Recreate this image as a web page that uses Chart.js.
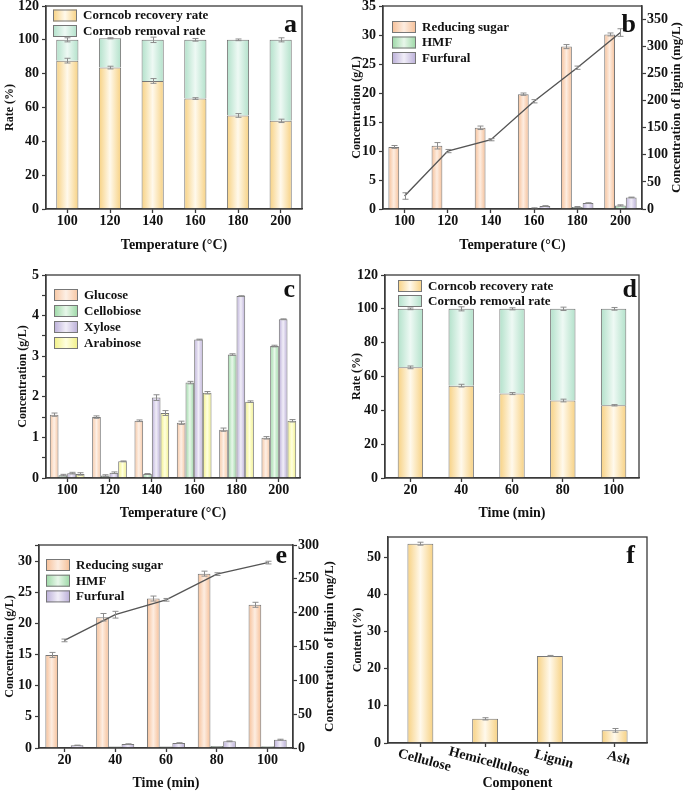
<!DOCTYPE html>
<html>
<head>
<meta charset="utf-8">
<script src="https://cdn.jsdelivr.net/npm/chart.js@4.4.1/dist/chart.umd.min.js"></script>
<style>
  body { margin: 0; background: #fff; }
  #fig { position: relative; width: 685px; height: 792px; overflow: hidden; }
  #fig canvas { position: absolute; }
</style>
</head>
<body>
<div id="fig">
  <canvas id="panelA" width="342" height="262" style="left:0;top:0"></canvas>
  <canvas id="panelB" width="343" height="262" style="left:342px;top:0"></canvas>
  <canvas id="panelC" width="342" height="265" style="left:0;top:258px"></canvas>
  <canvas id="panelD" width="343" height="265" style="left:342px;top:258px"></canvas>
  <canvas id="panelE" width="342" height="272" style="left:0;top:520px"></canvas>
  <canvas id="panelF" width="343" height="272" style="left:342px;top:520px"></canvas>
</div>
<script>
// ---- data ----
const tempLabels = ['100', '120', '140', '160', '180', '200'];
const timeLabels = ['20', '40', '60', '80', '100'];
const componentLabels = ['Cellulose', 'Hemicellulose', 'Lignin', 'Ash'];

// (a) recovery / removal vs temperature
const recoveryByTemp = [87.7, 83.6, 75.7, 65.3, 55.3, 52.1];
const recoveryByTempErr = [1.4, 0.8, 1.4, 0.5, 1.1, 1.0];
const removalByTemp = [12.3, 17.3, 24.3, 34.7, 44.7, 47.9];
const removalByTempErr = [1.2, 0.3, 1.6, 0.8, 0.5, 1.2];

// (b) hydrolysate vs temperature
const sugarByTemp = [10.7, 10.9, 14.0, 19.8, 28.0, 30.1];
const sugarByTempErr = [0.25, 0.55, 0.3, 0.2, 0.35, 0.25];
const hmfByTemp = [0, 0, 0.05, 0.15, 0.33, 0.62];
const hmfByTempErr = [0, 0, 0, 0.05, 0.1, 0.1];
const furfuralByTemp = [0, 0, 0.05, 0.52, 1.03, 2.0];
const furfuralByTempErr = [0, 0, 0, 0.05, 0.05, 0.05];
const ligninByTemp = [24, 107, 128, 199, 261, 326];
const ligninByTempErr = [6, 3, 2, 3, 3, 7];

// (c) sugars vs temperature
const glucose = [1.56, 1.50, 1.41, 1.36, 1.19, 0.99];
const glucoseErr = [0.04, 0.03, 0.02, 0.04, 0.04, 0.03];
const cellobiose = [0.07, 0.06, 0.10, 2.35, 3.04, 3.25];
const cellobioseErr = [0.02, 0.02, 0.01, 0.03, 0.02, 0.02];
const xylose = [0.12, 0.13, 1.98, 3.41, 4.48, 3.91];
const xyloseErr = [0.02, 0.02, 0.07, 0.01, 0.01, 0.01];
const arabinose = [0.10, 0.41, 1.60, 2.10, 1.88, 1.41];
const arabinoseErr = [0.03, 0.01, 0.06, 0.03, 0.02, 0.03];

// (d) recovery / removal vs time
const recoveryByTime = [65.4, 54.6, 49.9, 45.8, 43.0];
const recoveryByTimeErr = [0.8, 0.8, 0.6, 0.8, 0.4];
const removalByTime = [34.6, 45.4, 50.1, 54.2, 57.0];
const removalByTimeErr = [0.5, 1.2, 0.6, 1.0, 0.8];

// (e) hydrolysate vs time
const sugarByTime = [14.95, 21.0, 24.0, 28.0, 23.0];
const sugarByTimeErr = [0.4, 0.6, 0.4, 0.4, 0.4];
const hmfByTime = [0.05, 0.25, 0.25, 0.33, 0.3];
const furfuralByTime = [0.43, 0.63, 0.8, 1.07, 1.33];
const furfuralByTimeErr = [0.03, 0.04, 0.05, 0.06, 0.08];
const ligninByTime = [159, 197, 219, 257, 274];
const ligninByTimeErr = [2, 5, 2, 2, 2];

// (f) raw corncob composition
const contentValues = [53.6, 6.5, 23.4, 3.4];
const contentErr = [0.4, 0.3, 0.15, 0.5];

// ---- look ----
const SERIF = '"Liberation Serif", "DejaVu Serif", serif';
const INK = '#111';
const AXIS = '#3a3a3a';
const SHADES = {
    recovery: ['#f7d182', '#fff9ec'],
    removal: ['#b2e1ca', '#eef9f4'],
    sugar: ['#f6bf97', '#fdede1'],
    glucose: ['#f7c6a2', '#fdf0e6'],
    hmf: ['#9bd8a5', '#e8f7ea'],
    furfural: ['#baaed8', '#f1eef8'],
    arabinose: ['#f1f085', '#ffffe0']
};

Chart.defaults.font.family = SERIF;
Chart.defaults.font.weight = 'bold';
Chart.defaults.font.size = 14;
Chart.defaults.color = INK;
Chart.defaults.animation = false;
Chart.defaults.plugins.legend.display = false;
Chart.defaults.plugins.tooltip.enabled = false;

function isMajor(v, major) {
    return Math.abs(v / major - Math.round(v / major)) < 1e-6;
}

function edgeGradient(ctx, x0, x1, shade) {
    const g = ctx.createLinearGradient(x0, 0, x1, 0);
    g.addColorStop(0, shade[0]);
    g.addColorStop(0.5, shade[1]);
    g.addColorStop(1, shade[0]);
    return g;
}

// horizontal light-centre gradient on every bar
const barShade = {
    id: 'barShade',
    beforeDatasetsDraw(chart) {
        chart.data.datasets.forEach((ds, i) => {
            if (!ds.shade) return;
            chart.getDatasetMeta(i).data.forEach(el => {
                el.options.backgroundColor = edgeGradient(chart.ctx, el.x - el.width / 2, el.x + el.width / 2, ds.shade);
            });
        });
    }
};

// small gray error bars with caps
const errorBars = {
    id: 'errorBars',
    afterDatasetsDraw(chart) {
        const c = chart.ctx;
        chart.data.datasets.forEach((ds, i) => {
            if (!ds.err) return;
            const meta = chart.getDatasetMeta(i);
            const ys = chart.scales[meta.yAxisID];
            c.save();
            c.strokeStyle = '#8c8c8c';
            c.lineWidth = 1;
            meta.data.forEach((el, j) => {
                const e = ds.err[j];
                if (!e) return;
                const h = Math.abs(ys.getPixelForValue(0) - ys.getPixelForValue(e));
                const x = Math.round(el.x) + 0.5;
                c.beginPath();
                c.moveTo(x, el.y - h); c.lineTo(x, el.y + h);
                c.moveTo(x - 3, el.y - h); c.lineTo(x + 3, el.y - h);
                c.moveTo(x - 3, el.y + h); c.lineTo(x + 3, el.y + h);
                c.stroke();
            });
            c.restore();
        });
    }
};

// closed box round the plot + panel letter
const frame = {
    id: 'frame',
    afterDraw(chart, args, opts) {
        const c = chart.ctx;
        const a = chart.chartArea;
        c.save();
        c.strokeStyle = AXIS;
        c.lineWidth = 1.3;
        c.strokeRect(a.left, a.top, a.right - a.left, a.bottom - a.top);
        c.fillStyle = INK;
        c.font = 'bold 26px ' + SERIF;
        c.textAlign = 'right';
        c.textBaseline = 'alphabetic';
        c.fillText(opts.letter, a.right - opts.dx, a.top + opts.dy);
        c.restore();
    }
};

// legend drawn inside the plot, top-left, one row per bar series
const boxLegend = {
    id: 'boxLegend',
    afterDraw(chart, args, opts) {
        if (!opts.step) return;
        const c = chart.ctx;
        const a = chart.chartArea;
        const x = a.left + opts.left;
        let y = a.top + opts.top;
        c.save();
        c.font = 'bold 13px ' + SERIF;
        c.textBaseline = 'middle';
        chart.data.datasets.filter(d => d.shade).forEach(ds => {
            c.fillStyle = edgeGradient(c, x, x + 24, ds.shade);
            c.fillRect(x, y, 24, 12);
            c.strokeStyle = '#777';
            c.lineWidth = 1;
            c.strokeRect(x + 0.5, y + 0.5, 23, 11);
            c.fillStyle = INK;
            c.fillText(ds.label, x + 30, y + 6.5);
            y += opts.step;
        });
        c.restore();
    }
};

// right-hand axis title, reading bottom to top like the left one
const sideTitle = {
    id: 'sideTitle',
    afterDraw(chart, args, opts) {
        if (!opts.text) return;
        const c = chart.ctx;
        const a = chart.chartArea;
        c.save();
        c.translate(opts.x, (a.top + a.bottom) / 2);
        c.rotate(-Math.PI / 2);
        c.font = 'bold 13px ' + SERIF;
        c.fillStyle = INK;
        c.textAlign = 'center';
        c.textBaseline = 'middle';
        c.fillText(opts.text, 0, 0);
        c.restore();
    }
};

// category labels tilted clockwise (panel f)
const slantLabels = {
    id: 'slantLabels',
    afterDraw(chart, args, opts) {
        if (!opts.on) return;
        const c = chart.ctx;
        const xs = chart.scales.x;
        c.save();
        c.font = 'bold 14px ' + SERIF;
        c.fillStyle = INK;
        c.textAlign = 'center';
        c.textBaseline = 'middle';
        chart.data.labels.forEach((lab, i) => {
            c.save();
            c.translate(xs.getPixelForValue(i) + 4, chart.chartArea.bottom + opts.dy + lab.length * 0.4);
            c.rotate(opts.angle * Math.PI / 180);
            c.fillText(lab, 0, 0);
            c.restore();
        });
        c.restore();
    }
};

function xScale(title, height, titlePad, stacked, showTicks) {
    return {
        type: 'category',
        offset: true,
        stacked: stacked,
        border: { color: AXIS, width: 1.3 },
        grid: { offset: false, drawOnChartArea: false, tickLength: 4, tickColor: AXIS, tickWidth: 1.3 },
        ticks: { display: showTicks, padding: 0, color: INK, font: { size: 14 }, maxRotation: 0, autoSkip: false },
        title: { display: true, text: title, color: INK, font: { size: 14 }, padding: { top: 0, bottom: titlePad } },
        afterFit: s => { s.height = height; s.paddingLeft = 0; s.paddingRight = 0; }
    };
}

function yScale(o) {
    const left = o.position !== 'right';
    return {
        type: 'linear',
        position: o.position || 'left',
        stacked: o.stacked,
        bounds: 'data',
        min: 0,
        max: o.max,
        border: { color: AXIS, width: 1.3 },
        grid: { drawOnChartArea: false, tickLength: 4, tickColor: AXIS, tickWidth: 1.2 },
        ticks: {
            stepSize: o.step,
            includeBounds: false,
            padding: left ? 3 : 1,
            color: INK,
            font: { size: 14 },
            callback: v => isMajor(v, o.major) ? v : ''
        },
        title: left
            ? { display: true, text: o.title, color: INK, font: { size: 12 }, padding: { top: o.titlePad, bottom: 0 } }
            : { display: false },
        afterFit: s => { s.width = o.width; s.paddingTop = 0; s.paddingBottom = 0; }
    };
}

function bars(label, values, shade, err, extra) {
    return Object.assign({
        type: 'bar',
        label: label,
        data: values,
        shade: shade,
        err: err,
        backgroundColor: () => shade[0],
        borderColor: '#777',
        borderWidth: 1
    }, extra || {});
}

function ligninLine(values, err) {
    return {
        type: 'line',
        label: 'Lignin',
        data: values,
        err: err,
        yAxisID: 'y2',
        order: -1,
        borderColor: '#555',
        borderWidth: 1.4,
        pointRadius: 0,
        fill: false,
        tension: 0
    };
}

function makePanel(id, labels, datasets, scales, pad, plug) {
    return new Chart(document.getElementById(id), {
        data: { labels: labels, datasets: datasets },
        options: {
            responsive: false,
            layout: { padding: { top: pad.top, right: pad.right || 0, left: 0, bottom: 0 } },
            scales: scales,
            plugins: {
                frame: plug.frame,
                boxLegend: plug.legend || {},
                sideTitle: plug.side || {},
                slantLabels: plug.slant || {}
            }
        },
        plugins: [barShade, errorBars, frame, boxLegend, sideTitle, slantLabels]
    });
}

// (a)
makePanel('panelA', tempLabels, [
    bars('Corncob recovery rate', recoveryByTemp, SHADES.recovery, recoveryByTempErr, { barPercentage: 0.52, categoryPercentage: 1 }),
    bars('Corncob removal rate', removalByTemp, SHADES.removal, removalByTempErr, { barPercentage: 0.52, categoryPercentage: 1 })
], {
    x: xScale('Temperature (°C)', 53, 8.6, true, true),
    y: yScale({ max: 120, step: 10, major: 20, width: 46, title: 'Rate (%)', titlePad: 2.8, stacked: true })
}, { top: 6, right: 40 }, {
    frame: { letter: 'a', dx: 5, dy: 26 },
    legend: { left: 7, top: 3.5, step: 15.5 }
});

// (b)
makePanel('panelB', tempLabels, [
    ligninLine(ligninByTemp, ligninByTempErr),
    bars('Reducing sugar', sugarByTemp, SHADES.sugar, sugarByTempErr, { barPercentage: 1, categoryPercentage: 0.75 }),
    bars('HMF', hmfByTemp, SHADES.hmf, hmfByTempErr, { barPercentage: 1, categoryPercentage: 0.75 }),
    bars('Furfural', furfuralByTemp, SHADES.furfural, furfuralByTempErr, { barPercentage: 1, categoryPercentage: 0.75 })
], {
    x: xScale('Temperature (°C)', 53, 8.6, false, true),
    y: yScale({ max: 35, step: 2.5, major: 5, width: 41, title: 'Concentration (g/L)', titlePad: 7.8 }),
    y2: yScale({ position: 'right', max: 375, step: 25, major: 50, width: 43 })
}, { top: 6 }, {
    frame: { letter: 'b', dx: 6, dy: 26 },
    legend: { left: 9, top: 15, step: 15.5 },
    side: { text: 'Concentration of lignin (mg/L)', x: 335 }
});

// (c)
makePanel('panelC', tempLabels, [
    bars('Glucose', glucose, SHADES.glucose, glucoseErr, { barPercentage: 1, categoryPercentage: 0.82 }),
    bars('Cellobiose', cellobiose, SHADES.hmf, cellobioseErr, { barPercentage: 1, categoryPercentage: 0.82 }),
    bars('Xylose', xylose, SHADES.furfural, xyloseErr, { barPercentage: 1, categoryPercentage: 0.82 }),
    bars('Arabinose', arabinose, SHADES.arabinose, arabinoseErr, { barPercentage: 1, categoryPercentage: 0.82 })
], {
    x: xScale('Temperature (°C)', 45, 1.6, false, true),
    y: yScale({ max: 5, step: 0.5, major: 1, width: 46, title: 'Concentration (g/L)', titlePad: 15.8 })
}, { top: 17, right: 42 }, {
    frame: { letter: 'c', dx: 5, dy: 22 },
    legend: { left: 8, top: 14, step: 16 }
});

// (d)
makePanel('panelD', timeLabels, [
    bars('Corncob recovery rate', recoveryByTime, SHADES.recovery, recoveryByTimeErr, { barPercentage: 0.5, categoryPercentage: 1 }),
    bars('Corncob removal rate', removalByTime, SHADES.removal, removalByTimeErr, { barPercentage: 0.5, categoryPercentage: 1 })
], {
    x: xScale('Time (min)', 45, 1.6, true, true),
    y: yScale({ max: 120, step: 10, major: 20, width: 43, title: 'Rate (%)', titlePad: 7.8, stacked: true })
}, { top: 17, right: 46 }, {
    frame: { letter: 'd', dx: 2, dy: 22 },
    legend: { left: 13, top: 5, step: 15 }
});

// (e)
makePanel('panelE', timeLabels, [
    ligninLine(ligninByTime, ligninByTimeErr),
    bars('Reducing sugar', sugarByTime, SHADES.sugar, sugarByTimeErr, { barPercentage: 1, categoryPercentage: 0.75 }),
    bars('HMF', hmfByTime, SHADES.hmf, null, { barPercentage: 1, categoryPercentage: 0.75 }),
    bars('Furfural', furfuralByTime, SHADES.furfural, furfuralByTimeErr, { barPercentage: 1, categoryPercentage: 0.75 })
], {
    x: xScale('Time (min)', 44, 0.6, false, true),
    y: yScale({ max: 32.6, step: 2.5, major: 5, width: 39, title: 'Concentration (g/L)', titlePad: 2.8 }),
    y2: yScale({ position: 'right', max: 300, step: 25, major: 50, width: 49 })
}, { top: 25 }, {
    frame: { letter: 'e', dx: 6, dy: 18 },
    legend: { left: 7, top: 14, step: 15.7 },
    side: { text: 'Concentration of lignin (mg/L)', x: 330 }
});

// (f)
makePanel('panelF', componentLabels, [
    bars('Content', contentValues, SHADES.recovery, contentErr, { barPercentage: 0.4, categoryPercentage: 1 })
], {
    x: xScale('Component', 49, 0.6, false, false),
    y: yScale({ max: 55.4, step: 5, major: 10, width: 46, title: 'Content (%)', titlePad: 8.8 })
}, { top: 17, right: 38 }, {
    frame: { letter: 'f', dx: 12, dy: 26 },
    slant: { on: true, dy: 14, angle: 15 }
});
</script>
</body>
</html>
